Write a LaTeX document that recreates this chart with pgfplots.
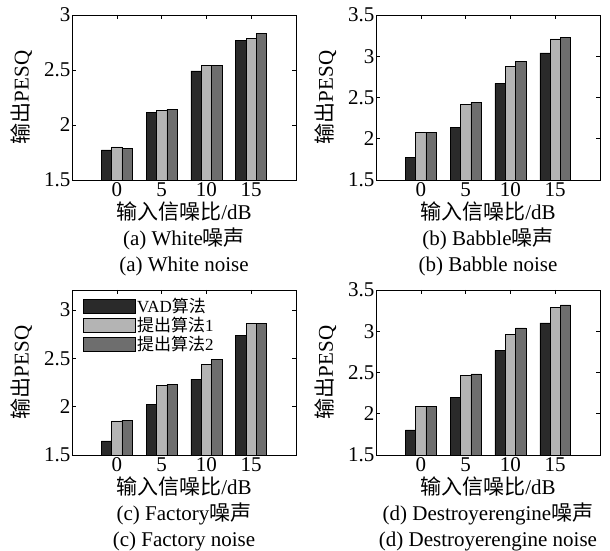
\documentclass[border=0pt]{standalone}
\usepackage{fontspec}
\setmainfont{Liberation Serif}
\newfontfamily\cjk{Noto Sans CJK SC}
\usepackage{pgfplots}
\pgfplotsset{compat=1.18}
\definecolor{cA}{RGB}{42,42,42}
\definecolor{cB}{RGB}{180,180,180}
\definecolor{cC}{RGB}{110,110,110}
\pgfplotsset{
 panel/.style={
  scale only axis, width=224pt, height=165pt,
  anchor=south west,
  xmin=-5, xmax=20, ymin=1.5,
  xtick={0,5,10,15},
  tick align=inside, major tick length=4pt,
  /pgf/number format/assume math mode=true,
  ticklabel style={font=\fontsize{21}{25}\selectfont},
  xticklabel style={yshift=1pt},
  yticklabel style={inner xsep=1.5pt},
  label style={font=\fontsize{21}{26}\selectfont},
  ylabel={{\cjk 输出}PESQ},
  ylabel style={at={(axis description cs:-0.225,0.5)}, anchor=center},
  xlabel style={at={(axis description cs:0.5,0)}, anchor=north, yshift=-18.5pt, align=center},
  axis line style={line width=0.6pt},
  tick style={line width=0.5pt, black},
 },
 mybar/.style={ybar, bar width=1.15, draw=black, line width=0.5pt, fill=#1,
  legend image code/.code={\draw[fill=#1, draw=black, line width=0.5pt] (0pt,-7pt) rectangle (52pt,7pt);}},
}
\begin{document}
\begin{tikzpicture}
\useasboundingbox (0pt,0pt) rectangle (610pt,551pt);
% (a)
\begin{axis}[panel, at={(72pt,371pt)}, ymax=3, ytick={1.5,2,2.5,3},
  xlabel={{\cjk 输入信噪比}/dB\\(a) White{\cjk 噪声}\\(a) White noise}]
\addplot[mybar=cA, bar shift=-1.15] coordinates {(0,1.773)(5,2.118)(10,2.491)(15,2.767)};
\addplot[mybar=cB, bar shift=0] coordinates {(0,1.800)(5,2.133)(10,2.545)(15,2.788)};
\addplot[mybar=cC, bar shift=1.15] coordinates {(0,1.788)(5,2.145)(10,2.545)(15,2.833)};
\end{axis}
% (b)
\begin{axis}[panel, at={(376pt,371pt)}, ymax=3.5, ytick={1.5,2,2.5,3,3.5},
  xlabel={{\cjk 输入信噪比}/dB\\(b) Babble{\cjk 噪声}\\(b) Babble noise}]
\addplot[mybar=cA, bar shift=-1.15] coordinates {(0,1.772)(5,2.136)(10,2.672)(15,3.040)};
\addplot[mybar=cB, bar shift=0] coordinates {(0,2.076)(5,2.420)(10,2.880)(15,3.212)};
\addplot[mybar=cC, bar shift=1.15] coordinates {(0,2.076)(5,2.440)(10,2.940)(15,3.232)};
\end{axis}
% (c)
\begin{axis}[panel, at={(72pt,96pt)}, ymax=3.207, ytick={1.5,2,2.5,3},
  xlabel={{\cjk 输入信噪比}/dB\\(c) Factory{\cjk 噪声}\\(c) Factory noise},
  legend style={draw=none, fill=none, at={(axis description cs:0.049,0.96)}, anchor=north west,
    font=\fontsize{17}{17}\selectfont, inner sep=0pt, row sep=0.8pt,
    nodes={inner xsep=1.5pt, inner ysep=1.2pt}},
  legend cell align=left]
\addplot[mybar=cA, bar shift=-1.15] coordinates {(0,1.645)(5,2.021)(10,2.286)(15,2.741)};
\addplot[mybar=cB, bar shift=0] coordinates {(0,1.852)(5,2.217)(10,2.441)(15,2.859)};
\addplot[mybar=cC, bar shift=1.15] coordinates {(0,1.862)(5,2.231)(10,2.490)(15,2.859)};
\legend{VAD{\cjk 算法},{\cjk 提出算法}1,{\cjk 提出算法}2}
\end{axis}
% (d)
\begin{axis}[panel, at={(376pt,96pt)}, ymax=3.5, ytick={1.5,2,2.5,3,3.5},
  xlabel={{\cjk 输入信噪比}/dB\\(d) Destroyerengine{\cjk 噪声}\\(d) Destroyerengine noise}]
\addplot[mybar=cA, bar shift=-1.15] coordinates {(0,1.805)(5,2.195)(10,2.768)(15,3.100)};
\addplot[mybar=cB, bar shift=0] coordinates {(0,2.085)(5,2.467)(10,2.963)(15,3.289)};
\addplot[mybar=cC, bar shift=1.15] coordinates {(0,2.085)(5,2.484)(10,3.040)(15,3.321)};
\end{axis}
\end{tikzpicture}
\end{document}
